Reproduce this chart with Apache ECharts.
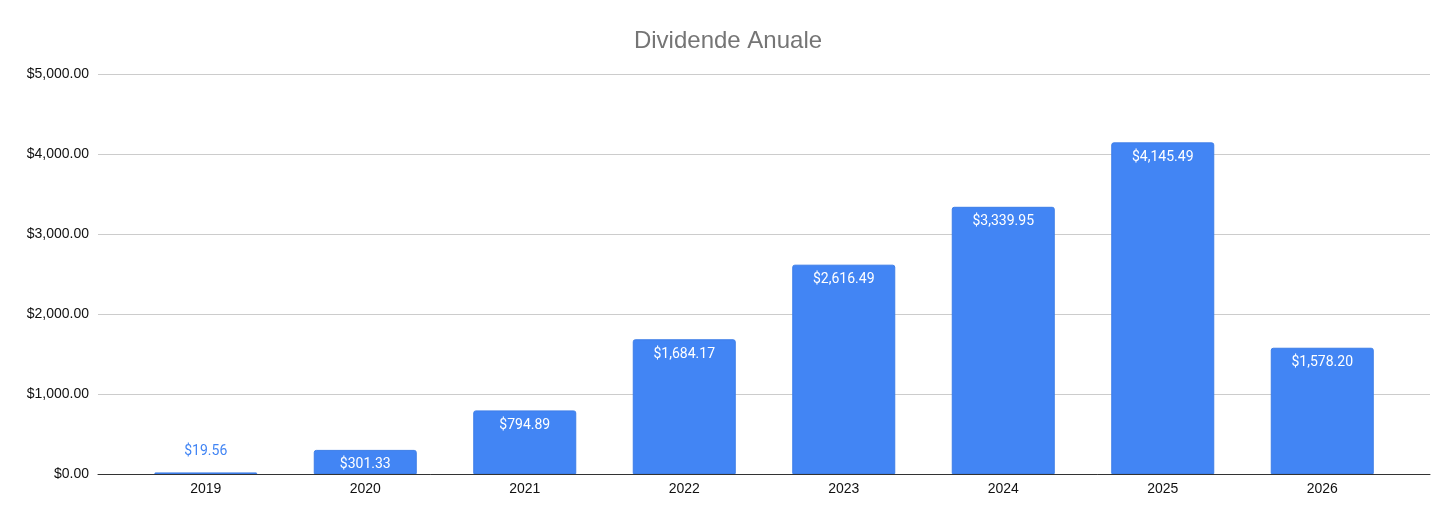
<!DOCTYPE html>
<html>
<head>
<meta charset="utf-8">
<script src="https://cdn.jsdelivr.net/npm/echarts@6/dist/echarts.min.js"></script>
<style>
  html, body { margin: 0; padding: 0; background: #fff; }
  #chart { width: 1456px; height: 522px; }
</style>
</head>
<body>
<div id="chart"></div>
<script>
var years = ['2019', '2020', '2021', '2022', '2023', '2024', '2025', '2026'];
var dividends = [19.56, 301.33, 794.89, 1684.17, 2616.49, 3339.95, 4145.49, 1578.20];
var yTicks = [0, 1000, 2000, 3000, 4000, 5000];

function money(v) {
    return '$' + Number(v).toLocaleString('en-US', {minimumFractionDigits: 2, maximumFractionDigits: 2});
}

var myChart = echarts.init(document.getElementById('chart'));

// small bars get their label above the bar, in blue
var barData = dividends.map(function (v) {
    if (v < 200) {
        return {value: v, label: {position: 'top', color: '#4285F4', distance: 14}};
    }
    return v;
});

var yMin = yTicks[0];
var yMax = yTicks[yTicks.length - 1];

var option = {
    animation: false,
    title: {
        text: 'Dividende Anuale',
        left: 'center',
        top: 24,
        textStyle: {
            color: '#757575',
            fontFamily: 'Liberation Sans',
            fontWeight: 'normal',
            fontSize: 24
        }
    },
    // grid 0: full width, gridlines + y labels + baseline
    // grid 1: inner, holds the bars (sheets pads the category band)
    grid: [
        {left: 98, right: 26, top: 74, bottom: 48},
        {left: 126, right: 54, top: 74, bottom: 48}
    ],
    xAxis: [
        {
            gridIndex: 0,
            type: 'category',
            data: [''],
            axisTick: {show: false},
            axisLabel: {show: false},
            axisLine: {lineStyle: {color: '#333', width: 1}}
        },
        {
            gridIndex: 1,
            type: 'category',
            data: years,
            axisTick: {show: false},
            axisLine: {show: false},
            axisLabel: {color: '#111', fontFamily: 'Liberation Sans', fontSize: 14, margin: 8}
        }
    ],
    yAxis: [
        {
            gridIndex: 0,
            type: 'value',
            min: yMin,
            max: yMax,
            interval: 1000,
            axisLine: {show: false},
            axisTick: {show: false},
            splitLine: {lineStyle: {color: '#cccccc'}},
            axisLabel: {
                color: '#111',
                fontFamily: 'Liberation Sans',
                fontSize: 14,
                margin: 9,
                formatter: money
            }
        },
        {
            gridIndex: 1,
            type: 'value',
            min: yMin,
            max: yMax,
            interval: 1000,
            show: false
        }
    ],
    series: [
        {
            type: 'bar',
            xAxisIndex: 1,
            yAxisIndex: 1,
            data: barData,
            barWidth: 103,
            z: 3,
            itemStyle: {
                color: '#4285F4',
                borderColor: '#3d7ee8',
                borderWidth: 1,
                borderRadius: [2, 2, 0, 0]
            },
            label: {
                show: true,
                position: 'insideTop',
                distance: 8,
                color: '#ffffff',
                fontFamily: 'Roboto',
                fontSize: 14,
                formatter: function (p) { return money(p.value); }
            }
        }
    ]
};

myChart.setOption(option, true);

window.addEventListener('resize', function () {
    myChart.resize();
});
</script>
</body>
</html>
